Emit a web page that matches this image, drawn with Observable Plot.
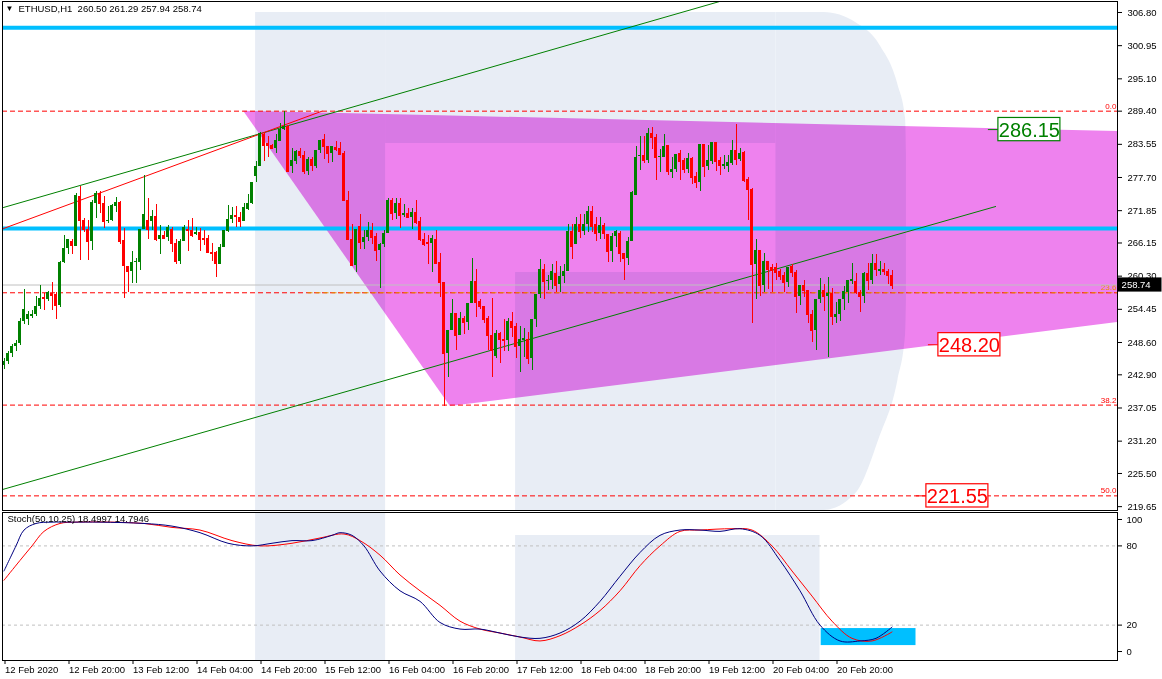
<!DOCTYPE html>
<html><head><meta charset="utf-8">
<script src="https://cdn.jsdelivr.net/npm/d3@7"></script>
<script src="https://cdn.jsdelivr.net/npm/@observablehq/plot@0.6"></script>
<style>
body{margin:0;background:#fff;}
#chart{width:1162px;}
#chart svg{display:block;}
</style></head><body><div id="chart"></div>
<script>
// ---------- DATA ----------
const symbolText = "ETHUSD,H1  260.50 261.29 257.94 258.74";
const stochText = "Stoch(50,10,25) 18.4997 14.7946";

const open = [244.5,245.3,246.6,247.9,248.4,252.3,252.6,253.2,253.5,254.9,256.6,256.2,257.3,257.1,255.2,262.7,265.1,266.4,265.6,274.4,
270.2,268.5,266.5,273.2,274.9,273.1,269.9,270.1,272.5,273.35,266.6,262.0,261.1,262.7,262.7,268.5,270.1,269.9,270.9,266.8,
267.4,267.1,268.6,266.1,262.85,266.5,268.5,268.4,267.7,268.0,267.0,267.0,264.5,264.5,262.4,265.3,268.1,270.3,270.95,270.6,
269.9,272.1,273.1,277.9,279.6,285.3,283.7,283.4,282.9,284.0,286.1,286.7,279.6,280.6,282.3,281.6,278.7,280.9,279.6,282.5,
284.4,283.1,281.9,283.0,282.8,282.0,273.7,266.8,262.15,269.0,266.2,267.1,268.4,267.25,264.8,265.8,267.8,273.7,271.4,273.1,
271.0,271.4,270.6,271.6,270.0,266.7,266.2,266.0,266.8,262.7,259.15,246.6,250.8,253.75,249.9,252.9,252.1,255.4,259.3,255.8,
255.0,252.9,249.9,246.2,250.1,249.2,248.9,252.3,251.4,247.9,249.0,249.2,245.8,252.7,257.15,261.5,259.3,259.6,260.8,258.8,
260.2,261.2,268.2,265.9,269.4,268.1,269.4,271.65,269.4,267.8,269.3,267.6,264.7,267.3,267.8,264.3,263.4,266.5,274.6,281.5,
281.6,280.75,285.44,284.7,281.2,281.3,283.4,278.6,279.1,282.0,280.75,279.15,281.0,277.8,276.9,283.6,279.6,280.6,283.9,280.75,
279.7,279.6,280.15,282.5,280.9,282.1,277.3,275.5,262.3,264.8,258.6,262.85,261.8,261.8,261.1,260.5,259.15,261.97,261.0,256.8,
258.7,257.85,253.45,250.8,256.1,257.7,256.7,257.3,253.0,253.6,256.1,257.4,259.3,259.4,257.4,256.7,260.7,259.6,262.55,261.2,
261.55,261.2,260.5];
const high = [245.8,247.0,248.3,249.0,252.8,257.9,254.0,254.3,256.7,258.7,257.3,257.6,259.1,257.4,262.8,267.5,266.8,266.8,274.8,276.05,
270.5,270.2,273.7,275.2,275.2,274.3,272.5,273.0,274.2,273.4,268.7,262.0,264.6,263.4,268.6,278.1,274.0,271.95,273.0,269.3,
268.2,269.3,268.8,266.8,266.7,269.3,270.2,270.5,268.8,268.7,268.4,267.4,266.1,264.6,265.8,268.3,272.8,272.4,272.5,271.5,
273.2,274.7,276.9,280.6,285.6,285.6,284.85,283.6,285.3,287.2,289.26,286.9,282.8,282.5,282.9,282.3,281.3,281.3,282.5,284.15,
285.2,283.1,283.2,284.1,283.8,282.3,275.3,269.4,268.6,271.2,268.4,269.7,269.6,267.9,266.1,268.3,274.0,274.0,274.0,274.0,
273.0,272.3,272.3,273.7,270.7,267.8,267.4,267.4,268.4,264.3,259.15,250.8,256.2,253.75,253.9,253.2,255.4,263.4,261.4,256.1,
255.0,253.2,256.4,250.8,250.4,252.6,252.9,253.9,252.0,251.4,251.0,250.4,252.7,257.15,263.3,262.3,260.5,262.3,262.9,262.0,
262.3,269.4,269.4,270.7,271.2,271.2,272.6,272.6,270.7,270.7,269.5,267.6,267.9,268.4,268.1,264.3,267.1,275.3,283.1,284.85,
284.97,286.4,286.55,285.3,282.55,285.3,283.4,281.3,281.8,282.4,281.0,282.0,281.3,278.6,283.6,283.6,283.4,283.9,283.9,281.3,
281.5,281.6,284.15,287.1,282.8,282.3,277.7,275.8,266.7,264.8,264.3,262.85,262.3,262.5,261.4,261.0,261.85,262.3,261.3,258.7,
259.6,257.85,254.2,256.1,259.9,258.9,260.0,258.2,255.7,256.1,258.4,259.5,262.55,260.8,257.7,261.0,262.5,264.2,264.2,262.9,
262.55,261.4,261.29];
const low = [243.9,244.8,246.0,247.0,248.0,251.8,251.6,252.8,253.2,254.5,254.3,255.8,254.3,252.6,254.8,262.5,264.2,264.2,265.5,263.1,
268.0,263.1,264.8,270.4,271.4,268.7,269.6,269.9,271.6,265.8,256.4,257.4,259.0,259.0,261.3,268.5,266.8,268.3,266.5,264.1,
266.8,266.4,264.5,262.3,262.3,266.4,264.6,267.2,267.4,264.6,265.7,264.3,262.85,260.1,262.4,265.3,267.95,269.5,268.9,268.9,
269.9,271.95,273.0,276.9,279.6,280.45,281.3,282.7,281.9,284.0,286.0,278.7,278.4,280.0,281.1,278.2,278.1,278.7,279.2,281.9,
280.8,280.1,280.3,282.3,281.5,273.7,266.8,262.25,261.0,265.0,265.0,266.4,265.8,262.8,258.1,265.3,267.8,270.1,270.3,268.7,
270.6,270.4,268.5,269.4,266.5,265.5,262.4,260.9,262.4,256.5,237.4,242.4,250.8,247.2,249.9,250.0,250.8,255.4,253.0,254.5,
251.9,247.2,242.4,245.8,244.9,247.0,247.0,249.4,245.7,243.3,246.0,244.8,243.6,251.3,256.3,256.1,257.7,258.0,257.5,257.5,
259.0,261.2,263.2,265.9,267.0,267.5,268.0,268.0,266.5,266.7,266.7,262.7,262.7,265.3,262.7,259.5,262.2,266.5,274.6,279.0,
280.15,280.15,282.55,277.1,278.6,281.3,278.1,277.6,278.6,277.1,278.4,278.4,276.5,275.8,275.2,277.7,279.0,280.0,278.7,278.0,
279.1,278.6,279.9,279.8,280.6,276.8,270.2,252.0,256.1,256.8,257.4,258.0,257.5,259.6,259.6,257.4,258.3,260.1,253.7,255.1,
256.6,251.9,248.6,247.2,255.4,254.0,246.0,251.6,251.9,252.3,254.2,255.4,258.9,257.1,253.9,255.4,257.7,258.9,260.3,260.4,
260.4,258.9,257.94];
const close = [245.3,246.6,247.9,248.4,252.3,254.5,253.5,253.6,255.0,256.4,256.3,257.4,256.9,255.2,262.7,265.2,266.7,265.7,274.6,270.1,
268.5,266.5,273.3,274.8,273.1,269.9,270.2,272.8,273.35,266.5,262.1,261.1,262.7,262.85,268.5,271.2,268.6,270.9,266.7,267.4,
266.95,268.8,266.1,262.85,266.5,268.8,268.3,267.5,268.0,266.7,266.8,264.4,264.3,262.55,265.4,268.3,270.36,270.95,270.77,269.9,
272.35,273.2,276.9,279.7,285.4,283.4,283.3,282.9,284.3,286.15,286.7,278.7,280.75,282.3,281.5,278.7,280.9,279.75,282.5,284.15,
283.1,281.9,283.2,282.7,281.8,273.7,266.8,262.25,268.6,266.2,267.1,268.3,267.1,264.8,265.8,267.8,273.7,271.4,273.1,271.0,
271.4,270.65,271.6,269.8,266.7,265.8,266.0,266.95,262.55,259.15,246.6,250.8,253.75,249.9,252.9,252.1,255.4,259.3,255.6,254.9,
252.6,249.8,247.2,250.1,249.05,248.9,252.3,251.2,247.9,249.05,249.3,245.8,252.7,257.15,261.5,259.3,259.6,261.1,258.6,260.3,
261.2,268.2,265.5,269.4,268.1,269.4,271.65,269.0,267.8,269.3,267.8,264.7,267.3,268.1,264.3,263.4,266.5,275.0,281.3,281.6,
280.75,285.44,284.7,281.2,281.45,283.2,278.7,279.1,281.8,280.6,279.15,281.0,277.7,276.9,283.6,279.6,280.75,283.9,280.45,279.75,
280.0,280.3,282.5,280.9,281.9,277.1,275.6,262.3,264.9,258.6,262.85,261.5,261.3,260.9,260.2,259.15,261.85,260.9,256.8,258.7,
257.7,253.45,250.7,256.1,257.7,256.7,257.3,253.2,253.6,256.1,257.55,259.5,259.7,257.4,256.7,260.7,259.6,262.55,261.4,261.55,
261.1,260.5,258.74];

const priceTicks = [306.80,300.95,295.10,289.40,283.55,277.70,271.85,266.15,260.30,254.45,248.60,242.90,237.05,231.20,225.50,219.65];
const timeTickBars = [0,16,32,48,64,80,96,112,128,144,160,176,192,208];
const timeTickLabels = ["12 Feb 2020","12 Feb 20:00","13 Feb 12:00","14 Feb 04:00","14 Feb 20:00","15 Feb 12:00","16 Feb 04:00",
  "16 Feb 20:00","17 Feb 12:00","18 Feb 04:00","18 Feb 20:00","19 Feb 12:00","20 Feb 04:00","20 Feb 20:00"];

const fibNames = ["0.0","23.6","38.2","50.0"];
const fibPrices = [289.40,257.37,237.56,221.55];
const hLinePrices = [304.1,268.7];
const lastPrice = 258.74;

// trend lines: [bar, price] endpoints
const greenUpper = [[-0.125,272.41],[178.9,308.74]];
const greenLower = [[-0.375,222.67],[247.9,272.58]];
const redTrend = [[-0.125,268.7],[79.5,289.4]];

// triangle (bar, lower price, upper price)
const triBars = [59.9,111.6,278.375];
const triLow = [289.4,237.3,252.13];
const triHigh = [289.4,288.55,285.8];

const labelPrices = [286.15,248.20,221.55];
const labelBars = [248.6,233.6,230.6];
const labelColors = ["#008000","#ff0000","#ff0000"];

const stochMainBars = [0,3,5,8,12,17,24,35,42,49,56,62,67,72,77,82,84,87,90,94,99,104,109,114,119,124,129,134,139,144,149,154,159,164,169,174,179,184,189,194,199,204,209,214,218,222];
const stochMainVals = [61,80,92,97,98,98,98,97,95,90,82,80,82,84,84,88,90,88,80,61,46,38,22,17,17,14,11,10,14,23,38,57,75,88,92,92,91,93,88,69,46,20,8,8,10,18.5];
const stochSigBars = [0,4,7,10,14,18,27,35,42,49,57,64,72,79,85,89,94,99,104,109,114,119,124,129,134,139,144,149,154,159,164,169,174,182,187,192,197,202,207,212,217,222];
const stochSigVals = [54,69,80,91,97,98,98,97,94,92,84,80,82,86,89,84,73,58,46,35,23,17,14,11,8,12,20,31,46,65,80,91,92,93,92,80,61,42,23,10,8,14.8];
const stochLevels = [20,80];
const stochTicks = [0,20,80,100];
const stochBox = {x1:204.3, x2:228, y1:4.5, y2:17.4};

// ---------- BUILD ----------
const W = 1162, H1 = 511, H2 = 168;
const xDomain = [-0.375, 278.375];
const FONT = "Liberation Sans, Arial, sans-serif";
const WM = "#e8edf5";
const GREEN = "#008000", RED = "#ff0000", CYAN = "#00bfff", VIOLET = "#ee82ee";

const candles = open.map((o,i)=>({i,o,h:high[i],l:low[i],c:close[i],col: close[i]>=o?GREEN:RED}));
const tri = triBars.map((b,k)=>({x:b, lo:triLow[k], hi:triHigh[k]}));
const seg = (a)=>a.map(([x,y])=>({x,y}));
const labels = labelPrices.map((p,k)=>({p, b:labelBars[k], col:labelColors[k]}));
const fibs = fibPrices.map((p,k)=>({p, name:fibNames[k], col: k===1?"#e59400":RED}));

// watermark pieces (main panel) in bar / price units
const wmMain = [
  {x1:62.9,x2:95.4,y1:218.97,y2:306.8},
  {x1:95.4,x2:193,y1:283.7,y2:306.8},
  {x1:127.9,x2:193,y1:218.97,y2:260.94}
];
const wmCurve = [
  {x:193,lo:218.97,hi:306.8},{x:205,lo:218.97,hi:306.8},{x:213,lo:222,hi:305},
  {x:219,lo:232,hi:301},{x:223.5,lo:242,hi:294},{x:225.4,lo:250,hi:288},{x:225.6,lo:256,hi:282}
];

const main = Plot.plot({
  width:W, height:H1, marginLeft:2, marginRight:45, marginTop:1, marginBottom:1,
  x:{domain:xDomain, axis:null},
  y:{domain:[218.97,308.74], axis:null},
  style:{fontFamily:FONT, fontSize:"9.5px", background:"#fff", overflow:"visible"},
  marks:[
    Plot.rect(wmMain,{x1:"x1",x2:"x2",y1:"y1",y2:"y2",fill:WM}),
    Plot.areaY(wmCurve,{x:"x",y1:"lo",y2:"hi",fill:WM,curve:"monotone-x"}),
    Plot.areaY(tri,{x:"x",y1:"lo",y2:"hi",fill:VIOLET,mixBlendMode:"multiply"}),
    // fib levels
    Plot.ruleY(fibs,{y:"p",stroke:RED,strokeDasharray:"5,3",strokeWidth:1}),
    Plot.ruleY([fibs[1]],{y:"p",x1:76,x2:278.375,stroke:"#e59400",strokeDasharray:"5,3",strokeWidth:1}),
    Plot.text(fibs,{x:278.1,y:"p",text:"name",fill:"col",textAnchor:"end",dy:-5,fontSize:8}),
    // last price line
    Plot.ruleY([lastPrice],{stroke:"#c0c0c0",strokeWidth:1}),
    // horizontal cyan lines
    Plot.ruleY(hLinePrices,{stroke:CYAN,strokeWidth:4}),
    // trend lines
    Plot.line(seg(greenUpper),{x:"x",y:"y",stroke:GREEN,strokeWidth:1,clip:true}),
    Plot.line(seg(greenLower),{x:"x",y:"y",stroke:GREEN,strokeWidth:1,clip:true}),
    Plot.line(seg(redTrend),{x:"x",y:"y",stroke:RED,strokeWidth:1,clip:true}),
    // candles
    Plot.ruleX(candles,{x:"i",y1:"l",y2:"h",stroke:"col",strokeWidth:1,shapeRendering:"crispEdges"}),
    Plot.rect(candles,{x1:d=>d.i-0.375,x2:d=>d.i+0.375,y1:d=>Math.min(d.o,d.c),y2:d=>Math.max(d.o,d.c),fill:"col",shapeRendering:"crispEdges"}),
    Plot.ruleY(candles,{y:"c",x1:d=>d.i-0.375,x2:d=>d.i+0.375,stroke:"col",shapeRendering:"crispEdges"}),
    // level labels
    Plot.ruleY(labels,{y:"p",x1:d=>d.b-2.5,x2:"b",stroke:"col"}),
    Plot.rect(labels,{x1:"b",x2:d=>d.b+15.5,y1:d=>d.p-2.05,y2:d=>d.p+2.05,fill:"white",stroke:"col",strokeWidth:1.2}),
    Plot.text(labels,{x:d=>d.b+7.75,y:"p",text:d=>d.p.toFixed(2),fill:"col",fontSize:20,dy:1}),
    // axis & frame
    Plot.frame({stroke:"#000"}),
    Plot.axisY(priceTicks,{anchor:"right",tickFormat:d=>d.toFixed(2),tickSize:4,tickPadding:6,fontSize:9.5,fill:"#000"}),
    Plot.rect([lastPrice],{x1:278.6,x2:289.5,y1:d=>d-1.25,y2:d=>d+1.25,fill:"#000"}),
    Plot.text([lastPrice],{x:279.4,y:d=>d,text:d=>d.toFixed(2),fill:"#fff",textAnchor:"start",fontSize:9.5}),
    // header
    Plot.text(["▼"],{frameAnchor:"top-left",dx:3,dy:4,textAnchor:"start",lineAnchor:"top",fontSize:8,fill:"#000"}),
    Plot.text([symbolText],{frameAnchor:"top-left",dx:16,dy:4,textAnchor:"start",lineAnchor:"top",fontSize:9.5,fill:"#000"})
  ]
});

const stochMain = stochMainBars.map((b,k)=>({x:b,v:stochMainVals[k]}));
const stochSig = stochSigBars.map((b,k)=>({x:b,v:stochSigVals[k]}));
const wmStoch = [
  {x1:62.9,x2:95.4,y1:-6.8,y2:105.3},
  {x1:127.9,x2:204,y1:-6.8,y2:87.9}
];
const tickMap = new Map(timeTickBars.map((b,k)=>[b,timeTickLabels[k]]));

const stoch = Plot.plot({
  width:W, height:H2, marginLeft:2, marginRight:45, marginTop:1, marginBottom:19,
  x:{domain:xDomain, axis:null},
  y:{domain:[-6.8,105.3], axis:null},
  style:{fontFamily:FONT, fontSize:"9.5px", background:"#fff", overflow:"visible"},
  marks:[
    Plot.rect(wmStoch,{x1:"x1",x2:"x2",y1:"y1",y2:"y2",fill:WM}),
    Plot.ruleY(stochLevels,{stroke:"#c0c0c0",strokeDasharray:"3,3"}),
    Plot.rect([stochBox],{x1:"x1",x2:"x2",y1:"y1",y2:"y2",fill:CYAN}),
    Plot.line(stochSig,{x:"x",y:"v",stroke:RED,strokeWidth:1,curve:"catmull-rom"}),
    Plot.line(stochMain,{x:"x",y:"v",stroke:"#000080",strokeWidth:1,curve:"catmull-rom"}),
    Plot.frame({stroke:"#000"}),
    Plot.axisY(stochTicks,{anchor:"right",tickSize:4,tickPadding:5,fontSize:9.5,fill:"#000"}),
    Plot.axisX(timeTickBars,{anchor:"bottom",tickFormat:d=>tickMap.get(d),textAnchor:"start",tickSize:4,tickPadding:2,dx:1,fontSize:9.5,fill:"#000"}),
    Plot.text([stochText],{frameAnchor:"top-left",dx:5,dy:3,textAnchor:"start",lineAnchor:"top",fontSize:9.5,fill:"#000"})
  ]
});

const root = document.getElementById("chart");
root.appendChild(main);
root.appendChild(stoch);
</script></body></html>
